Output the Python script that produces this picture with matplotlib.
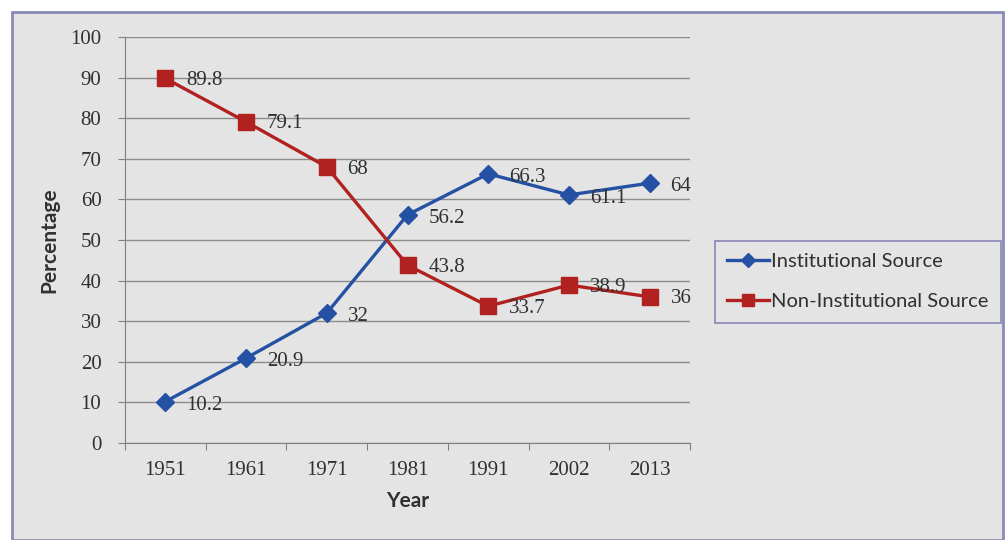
import matplotlib.pyplot as plt
from matplotlib.patches import Rectangle

plt.rcParams['font.family'] = ['Lato', 'DejaVu Sans']

# Data
years = ["1951", "1961", "1971", "1981", "1991", "2002", "2013"]
institutional = [10.2, 20.9, 32, 56.2, 66.3, 61.1, 64]
non_institutional = [89.8, 79.1, 68, 43.8, 33.7, 38.9, 36]

blue = '#2451a4'
red = '#b0211f'
bg = '#e4e4e4'
txt = '#303030'
num_font = ['Liberation Serif', 'DejaVu Serif']

fig = plt.figure(figsize=(10.05, 5.4), dpi=100)
fig.patch.set_facecolor('white')

# chart area background + border
fig.add_artist(Rectangle((12 / 1005, 0), 991 / 1005, 1 - 12 / 540,
                         transform=fig.transFigure, facecolor=bg,
                         edgecolor='#8a8ab8', linewidth=2, zorder=-10))

ax = fig.add_axes([125 / 1005, 1 - 443 / 540, 565 / 1005, 406 / 540])
ax.set_facecolor(bg)

x = list(range(len(years)))
l1, = ax.plot(x, institutional, color=blue, lw=2.4, marker='D', ms=9,
              label='Institutional Source', zorder=3)
l2, = ax.plot(x, non_institutional, color=red, lw=2.4, marker='s', ms=11,
              label='Non-Institutional Source', zorder=3)

for xi, v in zip(x, institutional):
    ax.annotate(f'{v:g}', (xi, v), xytext=(15, -2.5), textcoords='offset points',
                fontsize=15, color=txt, va='center', family=num_font, zorder=4)
for xi, v in zip(x, non_institutional):
    ax.annotate(f'{v:g}', (xi, v), xytext=(15, -1.5), textcoords='offset points',
                fontsize=15, color=txt, va='center', family=num_font, zorder=4)

ax.set_xlim(-0.5, 6.5)
ax.set_ylim(0, 100)
ax.set_yticks(range(0, 101, 10))
ax.set_yticklabels([str(v) for v in range(0, 101, 10)], family=num_font)
ax.set_xticks([i - 0.5 for i in range(8)], minor=False)
ax.set_xticklabels([])
ax.set_xticks(x, minor=True)
ax.set_xticklabels(years, minor=True, fontsize=15, color=txt, family=num_font)
ax.tick_params(axis='x', which='minor', length=0, pad=13)
ax.tick_params(axis='x', which='major', length=5, direction='out', color='#808080')
ax.tick_params(axis='y', length=5, direction='out', color='#808080',
               labelsize=15, labelcolor=txt, pad=12)
ax.grid(axis='y', color='#8c8c8c', lw=1)
ax.set_axisbelow(True)

for s in ['top', 'right']:
    ax.spines[s].set_visible(False)
ax.spines['left'].set_color('#808080')
ax.spines['bottom'].set_color('#808080')

ax.set_xlabel('Year', fontsize=15, fontweight='bold', color=txt, labelpad=8)
ax.set_ylabel('Percentage', fontsize=15, fontweight='bold', color=txt, labelpad=8)

leg = fig.legend(handles=[l1, l2], loc='upper left',
                 bbox_to_anchor=(715 / 1005, 1 - 241 / 540), frameon=True,
                 fontsize=14.5, handlelength=2.1, handletextpad=0.1,
                 borderpad=0.6, labelspacing=1.15, fancybox=False,
                 borderaxespad=0, markerscale=0.75)
leg.get_frame().set_edgecolor('#7070a8')
leg.get_frame().set_facecolor(bg)
leg.get_frame().set_linewidth(1.2)
for t in leg.get_texts():
    t.set_color(txt)

fig.savefig('out.png', dpi=100, facecolor=fig.get_facecolor())
